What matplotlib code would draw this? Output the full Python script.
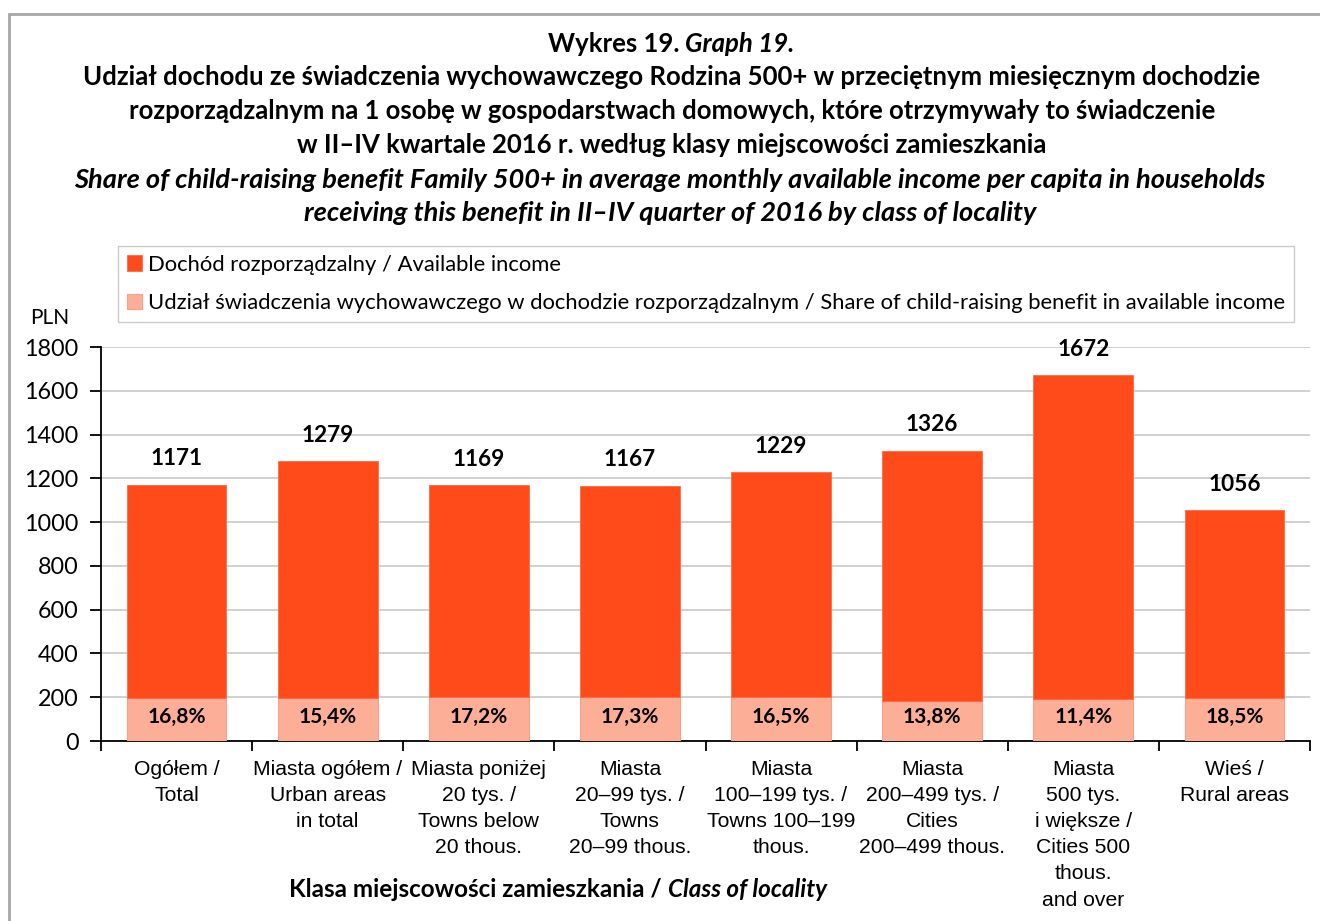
import matplotlib
matplotlib.use("Agg")
import matplotlib.pyplot as plt
from matplotlib.patches import Rectangle
import numpy as np

categories = [
    "Ogółem /\nTotal",
    "Miasta ogółem /\nUrban areas\nin total",
    "Miasta poniżej\n20 tys. /\nTowns below\n20 thous.",
    "Miasta\n20–99 tys. /\nTowns\n20–99 thous.",
    "Miasta\n100–199 tys. /\nTowns 100–199\nthous.",
    "Miasta\n200–499 tys. /\nCities\n200–499 thous.",
    "Miasta\n500 tys.\ni większe /\nCities 500\nthous.\nand over",
    "Wieś /\nRural areas",
]
income = [1171, 1279, 1169, 1167, 1229, 1326, 1672, 1056]
benefit = [197, 197, 201, 202, 203, 183, 191, 195]
share_labels = ["16,8%", "15,4%", "17,2%", "17,3%", "16,5%", "13,8%", "11,4%", "18,5%"]
yticks = [0, 200, 400, 600, 800, 1000, 1200, 1400, 1600, 1800]

CAL = "Lato"
ARI = "Liberation Sans"
ORANGE = "#FF4A1A"
PINK = "#FDAE97"

W, H = 1320, 921
fig = plt.figure(figsize=(W / 100, H / 100), dpi=100)

def fx(px):
    return px / W

def fy(py):
    return 1 - py / H

# outer frame
fig.patches.append(Rectangle((fx(9), fy(930)), fx(1330), fy(14) - fy(930),
                             transform=fig.transFigure, fill=False,
                             edgecolor="#a6a6a6", linewidth=2))

ax = fig.add_axes([fx(101), fy(741), fx(1310) - fx(101), fy(347) - fy(741)])
x = np.arange(len(categories))
bw = 0.66
upper = [i - b for i, b in zip(income, benefit)]
ax.bar(x, benefit, width=bw, color=PINK, edgecolor="#F9A08A", linewidth=0.8, zorder=3,
       label="Udział świadczenia wychowawczego w dochodzie rozporządzalnym / Share of child-raising benefit in available income")
ax.bar(x, upper, bottom=benefit, width=bw, color=ORANGE, edgecolor="#FF6A45", linewidth=0.6, zorder=3,
       label="Dochód rozporządzalny / Available income")

ax.set_xlim(-0.5, len(categories) - 0.5)
ax.set_ylim(0, 1800)
ax.set_yticks(yticks)
ax.set_yticklabels([str(v) for v in yticks], fontfamily=CAL, fontsize=16.8)
ax.yaxis.grid(True, color="#c8c8c8", linewidth=1.2, zorder=0)
ax.set_axisbelow(True)
for s in ["top", "right"]:
    ax.spines[s].set_visible(False)
ax.spines["left"].set_linewidth(1.3)
ax.spines["bottom"].set_linewidth(1.3)
ax.tick_params(axis="y", length=8, width=1.3, pad=8)

ax.set_xticks(np.arange(len(categories) + 1) - 0.5)
ax.set_xticklabels([])
ax.tick_params(axis="x", length=7, width=1.3)
for i, lab in enumerate(categories):
    ax.text(i, -1800 * 0.047, lab, ha="center", va="top",
            fontfamily=ARI, fontsize=15.2, linespacing=1.48)

for i, (v, b, s) in enumerate(zip(income, benefit, share_labels)):
    ax.text(i, v + 70, str(v), ha="center", va="bottom", fontfamily=CAL,
            fontweight="bold", fontsize=16.3)
    ax.text(i, 110, s, ha="center", va="center", fontfamily=CAL,
            fontweight="bold", fontsize=15, zorder=4)

# legend
h, l = ax.get_legend_handles_labels()
leg = fig.legend([h[1], h[0]], [l[1], l[0]], loc="upper left",
                 bbox_to_anchor=(fx(118), fy(246)), bbox_transform=fig.transFigure,
                 prop={"family": CAL, "size": 15.8}, frameon=True, fancybox=False,
                 edgecolor="#bfbfbf", handlelength=0.7, handleheight=0.7,
                 handletextpad=0.25, labelspacing=0.85, borderpad=0.4,
                 borderaxespad=0)
leg.get_frame().set_linewidth(1.0)

fig.text(fx(50), fy(318), "PLN", ha="center", va="center", fontfamily=CAL, fontsize=15)

# titles
renderer = fig.canvas.get_renderer()

def mixed(parts, cx, cy, size):
    texts = []
    for s, style in parts:
        t = fig.text(0, fy(cy), s, fontfamily=CAL, fontweight="bold", fontstyle=style,
                     fontsize=size, ha="left", va="center")
        texts.append(t)
    widths = [t.get_window_extent(renderer).width for t in texts]
    total = sum(widths)
    start = cx - total / 2
    for t, w in zip(texts, widths):
        t.set_x(fx(start))
        start += w

mixed([("Wykres 19. ", "normal"), ("Graph 19.", "italic")], 671, 44, 18.5)
title_lines = [
    "Udział dochodu ze świadczenia wychowawczego Rodzina 500+ w przeciętnym miesięcznym dochodzie",
    "rozporządzalnym na 1 osobę w gospodarstwach domowych, które otrzymywały to świadczenie",
    "w II–IV kwartale 2016 r. według klasy miejscowości zamieszkania",
]
for k, s in enumerate(title_lines):
    fig.text(fx(672), fy(77 + 34 * k), s, ha="center", va="center", fontfamily=CAL,
             fontweight="bold", fontsize=18.5)
en_lines = [
    "Share of child-raising benefit Family 500+ in average monthly available income per capita in households",
    "receiving this benefit in II–IV quarter of 2016 by class of locality",
]
for k, s in enumerate(en_lines):
    fig.text(fx(670), fy(180 + 33 * k), s, ha="center", va="center", fontfamily=CAL,
             fontweight="bold", fontstyle="italic", fontsize=19.6)

mixed([("Klasa miejscowości zamieszkania / ", "normal"), ("Class of locality", "italic")], 558, 889, 17.5)

fig.savefig("out.png", dpi=100)
